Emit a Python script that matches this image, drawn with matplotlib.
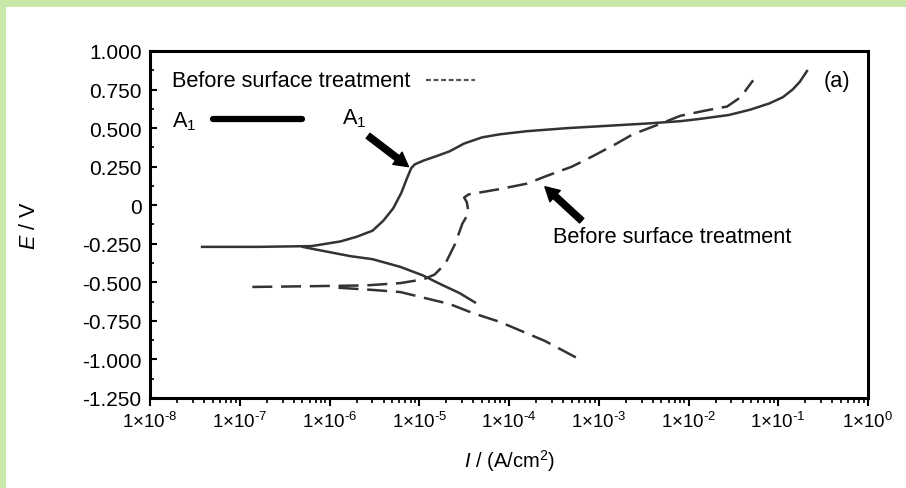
import numpy as np
import matplotlib
matplotlib.use("Agg")
import matplotlib.pyplot as plt
from matplotlib.patches import Rectangle
from matplotlib.ticker import FixedLocator, LogLocator, NullFormatter

plt.rcParams["font.family"] = ["Liberation Sans", "DejaVu Sans"]
plt.rcParams["mathtext.fontset"] = "custom"
plt.rcParams["mathtext.rm"] = "Liberation Sans"
plt.rcParams["mathtext.it"] = "Liberation Sans:italic"

# log10(I) and E for the A1 sample
a1_anodic_logi = [-7.42, -6.8, -6.2, -5.88, -5.70, -5.52, -5.40, -5.29, -5.20, -5.14, -5.09,
                  -5.05, -4.95, -4.80, -4.66, -4.50, -4.30, -4.10, -3.80, -3.35, -2.90,
                  -2.46, -2.09, -1.87, -1.55, -1.31, -1.10, -0.95, -0.84, -0.76, -0.68]
a1_anodic_e = [-0.27, -0.27, -0.265, -0.235, -0.205, -0.165, -0.10, -0.02, 0.08, 0.17, 0.24,
               0.265, 0.29, 0.32, 0.35, 0.40, 0.44, 0.46, 0.48, 0.50, 0.515,
               0.53, 0.545, 0.56, 0.585, 0.62, 0.66, 0.70, 0.75, 0.80, 0.87]
a1_cathodic_logi = [-6.30, -6.18, -5.77, -5.52, -5.21, -4.96, -4.77, -4.55, -4.38]
a1_cathodic_e = [-0.27, -0.284, -0.33, -0.35, -0.40, -0.455, -0.51, -0.57, -0.63]

# before surface treatment
before_anodic_logi = [-6.86, -6.2, -5.6, -5.21, -4.95, -4.83, -4.71, -4.60, -4.52, -4.45,
                      -4.47, -4.50, -4.45, -4.30, -4.10, -3.80, -3.58, -3.30, -3.06, -2.80,
                      -2.62, -2.35, -2.09, -1.80, -1.57, -1.42, -1.28]
before_anodic_e = [-0.53, -0.525, -0.52, -0.505, -0.48, -0.45, -0.38, -0.25, -0.12, -0.05,
                   0.02, 0.05, 0.07, 0.085, 0.105, 0.14, 0.19, 0.25, 0.32, 0.40,
                   0.46, 0.52, 0.58, 0.615, 0.64, 0.70, 0.81]
before_cathodic_logi = [-5.9, -5.5, -5.21, -4.95, -4.66, -4.40, -4.10, -3.60, -3.18]
before_cathodic_e = [-0.535, -0.55, -0.563, -0.60, -0.641, -0.70, -0.757, -0.88, -1.01]

x_ticks = [1e-8, 1e-7, 1e-6, 1e-5, 1e-4, 1e-3, 1e-2, 1e-1, 1e0]
x_labels = ["1×10$^{\\text{-}8}$", "1×10$^{\\text{-}7}$", "1×10$^{\\text{-}6}$",
            "1×10$^{\\text{-}5}$", "1×10$^{\\text{-}4}$", "1×10$^{\\text{-}3}$",
            "1×10$^{\\text{-}2}$", "1×10$^{\\text{-}1}$", "1×10$^{0}$"]
y_ticks = [1.0, 0.75, 0.5, 0.25, 0.0, -0.25, -0.5, -0.75, -1.0, -1.25]
y_labels = ["1.000", "0.750", "0.500", "0.250", "0", "-0.250", "-0.500", "-0.750", "-1.000", "-1.250"]

fig = plt.figure(figsize=(9.06, 4.89), dpi=100, facecolor="#c9e7a9")
fig.patches.append(Rectangle((6 / 906, 0), 1, 1 - 8 / 489, transform=fig.transFigure,
                             facecolor="white", edgecolor="none", zorder=-10))
ax = fig.add_axes([150 / 906, 1 - 399 / 489, 718 / 906, 347 / 489])

line_col = "#333333"
ax.plot(10 ** np.array(a1_anodic_logi), a1_anodic_e, color=line_col, lw=1.8)
ax.plot(10 ** np.array(a1_cathodic_logi), a1_cathodic_e, color=line_col, lw=1.8)
ax.plot(10 ** np.array(before_anodic_logi), before_anodic_e, color=line_col, lw=1.8,
        dashes=(8, 3.5))
ax.plot(10 ** np.array(before_cathodic_logi), before_cathodic_e, color=line_col, lw=1.8,
        dashes=(8, 3.5))

ax.set_xscale("log")
ax.set_xlim(1e-8, 1e0)
ax.set_ylim(-1.25, 1.0)
ax.set_xticks(x_ticks)
ax.set_xticklabels(x_labels)
ax.xaxis.set_minor_locator(LogLocator(base=10, subs=np.arange(2, 10), numticks=20))
ax.xaxis.set_minor_formatter(NullFormatter())
ax.set_yticks(y_ticks)
ax.set_yticklabels(y_labels)
ax.yaxis.set_minor_locator(FixedLocator(np.arange(-1.125, 1.0, 0.25)))
ax.tick_params(axis="x", which="major", direction="out", length=6, width=1.5, labelsize=13.5, pad=3)
ax.tick_params(axis="x", which="minor", direction="out", length=3.5, width=1.2)
ax.tick_params(axis="y", which="major", direction="in", length=5, width=1.5, labelsize=15, pad=6)
ax.tick_params(axis="y", which="minor", direction="in", length=3, width=1.2)
for sp in ax.spines.values():
    sp.set_linewidth(2.2)

ax.set_xlabel("$\\mathit{I}$ / (A/cm$^{2}$)", fontsize=14.5, labelpad=12)
ax.set_ylabel("$\\mathit{E}$ / V", fontsize=15.5, labelpad=30)

# legend samples
ax.text(0.03, 0.915, "Before surface treatment", transform=ax.transAxes, fontsize=15.7,
        va="center", ha="left")
ax.plot([0.385, 0.453], [0.915, 0.915], transform=ax.transAxes, color="#555555", lw=1.6,
        dashes=(2.2, 1.2))
ax.text(0.03, 0.80, "A$_{1}$", transform=ax.transAxes, fontsize=15.7, va="center", ha="left")
ax.plot([0.088, 0.212], [0.805, 0.805], transform=ax.transAxes, color="black", lw=4.5,
        solid_capstyle="round")

ax.text(0.975, 0.915, "(a)", transform=ax.transAxes, fontsize=15.7, va="center", ha="right")

arrow = dict(arrowstyle="simple,head_width=1.1,head_length=1.0,tail_width=0.45",
             color="black", shrinkA=0, shrinkB=0)
ax.annotate("", xy=(10 ** -5.12, 0.25), xytext=(10 ** -5.57, 0.45), arrowprops=arrow)
ax.text(10 ** -5.72, 0.57, "A$_{1}$", fontsize=15.7, ha="center", va="center")
ax.annotate("", xy=(10 ** -3.60, 0.12), xytext=(10 ** -3.19, -0.10), arrowprops=arrow)
ax.text(10 ** -3.51, -0.205, "Before surface treatment", fontsize=15.7, ha="left", va="center")

fig.savefig("out.png", dpi=100, facecolor=fig.get_facecolor())
